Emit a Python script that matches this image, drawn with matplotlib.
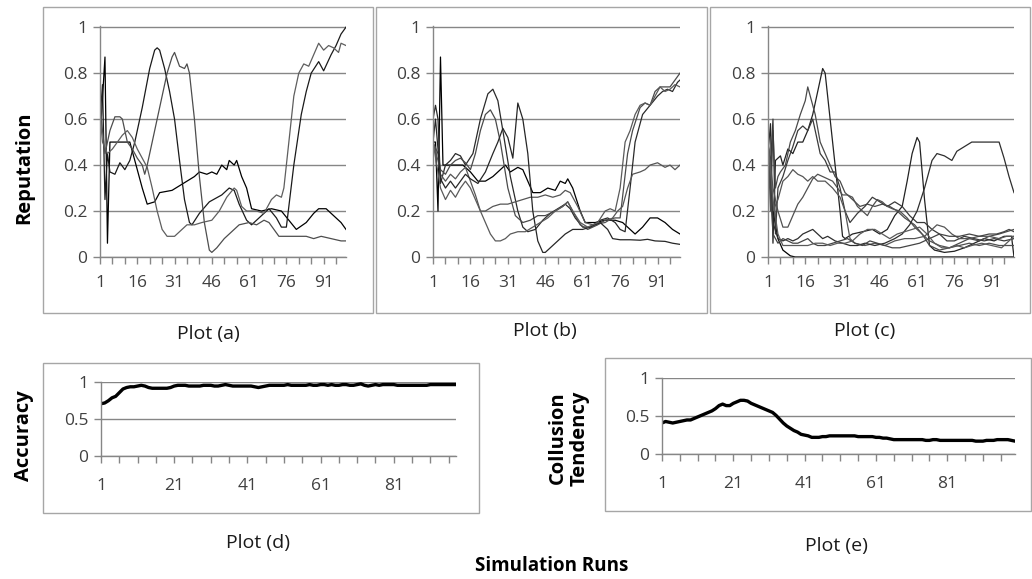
import matplotlib.pyplot as plt
from matplotlib.patches import Rectangle

plt.rcParams['font.family'] = ['Open Sans', 'DejaVu Sans']

# ---- Plot (a): reputation, 4 runs ----
a1_x = [1, 2, 3, 4, 5, 13, 16, 18, 20, 23, 25, 30, 33, 36, 39, 41, 44, 46, 48, 50, 52, 53, 55, 56, 58, 60, 62, 66,
        70, 74, 77, 80, 84, 87, 89, 92, 94, 96, 98, 100]
a1_y = [0.5, 0.69, 0.87, 0.06, 0.5, 0.5, 0.38, 0.3, 0.23, 0.24, 0.28, 0.29, 0.31, 0.33, 0.35, 0.37, 0.36, 0.37, 0.36,
        0.4, 0.38, 0.42, 0.4, 0.42, 0.35, 0.3, 0.21, 0.2, 0.21, 0.2, 0.16, 0.12, 0.15, 0.19, 0.21, 0.21, 0.19, 0.17,
        0.15, 0.12]
a2_x = [1, 2, 3, 4, 5, 7, 9, 11, 13, 15, 18, 21, 23, 24, 25, 27, 29, 31, 33, 35, 37, 38, 41, 45, 50, 53, 55, 57, 60,
        62, 65, 69, 72, 74, 76, 79, 82, 84, 86, 89, 91, 94, 96, 98, 100]
a2_y = [0.6, 0.75, 0.25, 0.45, 0.37, 0.36, 0.41, 0.38, 0.42, 0.5, 0.65, 0.82, 0.9, 0.91, 0.9, 0.82, 0.72, 0.6, 0.42,
        0.25, 0.15, 0.14, 0.19, 0.24, 0.27, 0.3, 0.29, 0.23, 0.16, 0.14, 0.17, 0.21, 0.17, 0.13, 0.13, 0.4, 0.62,
        0.72, 0.8, 0.85, 0.81, 0.88, 0.92, 0.97, 1.0]
a3_x = [1, 2, 3, 5, 7, 9, 10, 12, 14, 16, 18, 19, 20, 22, 25, 28, 30, 31, 33, 35, 36, 37, 39, 41, 43, 45, 46, 48, 51,
        54, 57, 61, 64, 67, 69, 71, 73, 76, 80, 84, 87, 90, 94, 98, 100]
a3_y = [0.68, 0.55, 0.45, 0.55, 0.61, 0.61, 0.6, 0.5, 0.47, 0.43, 0.4, 0.36, 0.4, 0.5, 0.65, 0.8, 0.87, 0.89, 0.83,
        0.82, 0.84, 0.8, 0.6, 0.35, 0.15, 0.03, 0.02, 0.04, 0.08, 0.11, 0.14, 0.15, 0.14, 0.16, 0.15, 0.12, 0.09,
        0.09, 0.09, 0.09, 0.08, 0.09, 0.08, 0.07, 0.07]
a4_x = [1, 2, 4, 6, 8, 10, 12, 14, 16, 18, 20, 22, 24, 26, 28, 31, 33, 36, 39, 42, 46, 49, 52, 55, 56, 58, 60, 64,
        67, 70, 72, 74, 75, 77, 79, 81, 83, 85, 87, 89, 91, 93, 95, 97, 98, 100]
a4_y = [0.62, 0.5, 0.45, 0.47, 0.5, 0.53, 0.55, 0.52, 0.47, 0.43, 0.39, 0.3, 0.2, 0.12, 0.09, 0.09, 0.11, 0.14, 0.14,
        0.15, 0.16, 0.2, 0.26, 0.3, 0.29, 0.22, 0.2, 0.2, 0.19, 0.25, 0.27, 0.26, 0.3, 0.5, 0.7, 0.8, 0.84, 0.83,
        0.88, 0.93, 0.9, 0.92, 0.91, 0.89, 0.93, 0.92]

# ---- Plot (b): reputation, 6 runs ----
b1_x = [1, 2, 3, 4, 5, 13, 16, 19, 22, 25, 28, 30, 32, 35, 37, 39, 41, 44, 47, 50, 52, 54, 55, 57, 60, 62, 66, 70,
        74, 77, 80, 82, 85, 88, 91, 94, 97, 100]
b1_y = [0.5, 0.5, 0.2, 0.87, 0.4, 0.4, 0.37, 0.33, 0.33, 0.35, 0.38, 0.4, 0.37, 0.39, 0.38, 0.33, 0.28, 0.28, 0.3,
        0.29, 0.33, 0.32, 0.34, 0.3, 0.2, 0.15, 0.15, 0.16, 0.16, 0.15, 0.12, 0.1, 0.13, 0.17, 0.17, 0.15, 0.12, 0.1]
b2_x = [1, 2, 3, 4, 6, 8, 10, 12, 14, 17, 20, 23, 25, 27, 29, 32, 35, 37, 39, 42, 45, 48, 51, 54, 56, 58, 61, 64,
        68, 71, 74, 76, 78, 80, 82, 85, 88, 91, 93, 95, 97, 99, 100]
b2_y = [0.6, 0.66, 0.6, 0.32, 0.4, 0.42, 0.45, 0.44, 0.4, 0.45, 0.6, 0.71, 0.73, 0.68, 0.55, 0.35, 0.2, 0.13, 0.11,
        0.12, 0.16, 0.19, 0.21, 0.23, 0.21, 0.17, 0.13, 0.13, 0.16, 0.17, 0.15, 0.12, 0.11, 0.3, 0.5, 0.62, 0.66,
        0.7, 0.72, 0.73, 0.72, 0.76, 0.77]
b3_x = [1, 3, 4, 6, 8, 10, 12, 14, 16, 18, 20, 22, 24, 26, 28, 31, 34, 37, 40, 43, 46, 50, 53, 55, 57, 60, 63, 67,
        70, 74, 76, 79, 81, 84, 86, 88, 90, 92, 96, 98, 100]
b3_y = [0.5, 0.45, 0.38, 0.36, 0.4, 0.42, 0.43, 0.41, 0.38, 0.45, 0.55, 0.62, 0.64, 0.6, 0.5, 0.3, 0.18, 0.15, 0.16,
        0.18, 0.18, 0.2, 0.22, 0.24, 0.2, 0.14, 0.12, 0.14, 0.16, 0.17, 0.17, 0.45, 0.55, 0.65, 0.67, 0.66, 0.72,
        0.74, 0.74, 0.77, 0.8]
b4_x = [1, 3, 4, 6, 8, 10, 12, 14, 16, 18, 20, 22, 25, 28, 31, 34, 37, 40, 43, 46, 49, 52, 54, 56, 59, 62, 65, 70,
        73, 75, 77, 79, 81, 84, 86, 88, 91, 94, 96, 98, 100]
b4_y = [0.5, 0.42, 0.36, 0.33, 0.36, 0.34, 0.37, 0.39, 0.33, 0.27, 0.2, 0.2, 0.22, 0.23, 0.23, 0.24, 0.25, 0.26,
        0.26, 0.27, 0.26, 0.27, 0.29, 0.28, 0.22, 0.15, 0.14, 0.15, 0.17, 0.2, 0.22, 0.3, 0.36, 0.37, 0.38, 0.4,
        0.41, 0.39, 0.4, 0.38, 0.4]
b5_x = [1, 2, 4, 6, 8, 10, 12, 14, 16, 19, 22, 25, 27, 29, 31, 33, 35, 37, 39, 41, 43, 45, 46, 48, 51, 54, 57, 61,
        64, 68, 71, 73, 76, 80, 84, 87, 90, 94, 97, 100]
b5_y = [0.5, 0.6, 0.34, 0.3, 0.33, 0.3, 0.33, 0.36, 0.34, 0.32, 0.37, 0.45, 0.5, 0.56, 0.52, 0.43, 0.67, 0.6, 0.45,
        0.2, 0.07, 0.02, 0.02, 0.04, 0.07, 0.1, 0.12, 0.12, 0.13, 0.15, 0.12, 0.08, 0.075, 0.075, 0.073, 0.077,
        0.07, 0.068, 0.06, 0.055]
b6_x = [1, 4, 6, 8, 10, 12, 14, 16, 18, 20, 22, 24, 26, 28, 30, 32, 35, 38, 41, 44, 47, 50, 53, 55, 57, 60, 63, 67,
        70, 72, 74, 76, 78, 80, 82, 84, 86, 88, 90, 92, 94, 96, 98, 100]
b6_y = [0.5, 0.3, 0.25, 0.29, 0.26, 0.3, 0.33, 0.3, 0.25, 0.2, 0.15, 0.1, 0.07, 0.07, 0.08, 0.1, 0.11, 0.11, 0.13,
        0.15, 0.17, 0.2, 0.22, 0.24, 0.2, 0.15, 0.13, 0.15, 0.2, 0.21, 0.2, 0.3, 0.5, 0.55, 0.62, 0.66, 0.67, 0.66,
        0.7, 0.74, 0.72, 0.73, 0.75, 0.74]

# ---- Plot (c): reputation, 9 runs ----
c1_x = [1, 2, 3, 5, 7, 10, 12, 100]
c1_y = [0.5, 0.35, 0.2, 0.08, 0.03, 0.005, 0.0, 0.0]
c2_x = [1, 2, 3, 4, 6, 7, 9, 11, 13, 15, 17, 19, 21, 23, 24, 26, 28, 30, 31, 32, 35, 39, 43, 46, 49, 52, 55, 57,
        59, 61, 62, 64, 66, 68, 72, 76, 80, 84, 88, 92, 96, 99, 100]
c2_y = [0.45, 0.58, 0.06, 0.42, 0.44, 0.4, 0.47, 0.45, 0.5, 0.5, 0.55, 0.62, 0.72, 0.82, 0.8, 0.6, 0.4, 0.2, 0.09,
        0.08, 0.1, 0.11, 0.12, 0.1, 0.12, 0.18, 0.22, 0.33, 0.45, 0.52, 0.5, 0.25, 0.05, 0.03, 0.02, 0.025, 0.04,
        0.06, 0.08, 0.07, 0.09, 0.09, 0.0]
c3_x = [1, 2, 3, 4, 5, 6, 8, 10, 12, 14, 16, 17, 18, 20, 22, 24, 26, 28, 30, 32, 35, 38, 41, 44, 47, 50, 53, 56,
        60, 63, 66, 70, 74, 78, 82, 86, 90, 94, 97, 100]
c3_y = [0.5, 0.2, 0.55, 0.3, 0.35, 0.37, 0.4, 0.5, 0.55, 0.62, 0.68, 0.74, 0.7, 0.62, 0.5, 0.45, 0.4, 0.35, 0.33,
        0.28, 0.25, 0.22, 0.23, 0.22, 0.23, 0.22, 0.2, 0.17, 0.14, 0.1, 0.05, 0.03, 0.04, 0.06, 0.08, 0.07, 0.09,
        0.1, 0.11, 0.12]
c4_x = [1, 2, 3, 4, 5, 7, 9, 11, 13, 15, 17, 19, 20, 22, 24, 26, 28, 30, 32, 34, 37, 40, 43, 46, 49, 52, 55, 58,
        61, 64, 67, 70, 73, 76, 80, 84, 88, 92, 96, 100]
c4_y = [0.5, 0.4, 0.6, 0.1, 0.3, 0.35, 0.42, 0.48, 0.55, 0.57, 0.55, 0.6, 0.55, 0.45, 0.42, 0.37, 0.37, 0.3, 0.2,
        0.15, 0.19, 0.22, 0.26, 0.24, 0.22, 0.24, 0.22, 0.18, 0.15, 0.15, 0.12, 0.1, 0.07, 0.07, 0.09, 0.08, 0.07,
        0.08, 0.07, 0.08]
c5_x = [1, 3, 5, 7, 9, 11, 13, 15, 17, 19, 21, 24, 27, 30, 32, 34, 36, 40, 44, 48, 52, 56, 60, 64, 67, 69, 72, 75,
        78, 82, 86, 90, 94, 97, 100]
c5_y = [0.5, 0.2, 0.25, 0.33, 0.35, 0.38, 0.36, 0.35, 0.33, 0.35, 0.33, 0.33, 0.3, 0.26, 0.2, 0.08, 0.06, 0.05,
        0.06, 0.05, 0.07, 0.08, 0.08, 0.09, 0.12, 0.14, 0.13, 0.1, 0.08, 0.08, 0.09, 0.09, 0.08, 0.09, 0.09]
c6_x = [1, 3, 5, 7, 9, 11, 13, 15, 17, 19, 21, 23, 25, 27, 29, 31, 33, 35, 37, 39, 41, 43, 45, 47, 49, 51, 54, 57,
        60, 63, 66, 70, 74, 78, 82, 86, 90, 94, 97, 100]
c6_y = [0.5, 0.3, 0.2, 0.13, 0.13, 0.18, 0.23, 0.26, 0.3, 0.34, 0.36, 0.35, 0.34, 0.33, 0.3, 0.27, 0.27, 0.26, 0.22,
        0.2, 0.18, 0.22, 0.25, 0.24, 0.22, 0.21, 0.2, 0.17, 0.13, 0.1, 0.07, 0.05, 0.04, 0.05, 0.06, 0.05, 0.06,
        0.05, 0.05, 0.05]
c7_x = [1, 3, 5, 7, 9, 11, 13, 15, 17, 19, 21, 23, 25, 28, 31, 34, 37, 40, 44, 48, 52, 55, 58, 61, 64, 67, 69, 72,
        75, 77, 80, 83, 86, 89, 92, 94, 96, 98, 100]
c7_y = [0.5, 0.15, 0.08, 0.07, 0.08, 0.07, 0.08, 0.1, 0.11, 0.12, 0.1, 0.08, 0.09, 0.07, 0.06, 0.05, 0.05, 0.06,
        0.05, 0.06, 0.08, 0.1, 0.14, 0.2, 0.3, 0.42, 0.45, 0.44, 0.42, 0.46, 0.48, 0.5, 0.5, 0.5, 0.5, 0.5, 0.43,
        0.35, 0.28]
c8_x = [1, 2, 3, 5, 7, 9, 11, 13, 15, 17, 19, 21, 24, 27, 30, 33, 36, 39, 42, 45, 48, 51, 54, 58, 62, 66, 70, 74,
        78, 82, 86, 90, 93, 96, 98, 100]
c8_y = [0.5, 0.3, 0.1, 0.06, 0.08, 0.07, 0.06, 0.06, 0.07, 0.08, 0.06, 0.05, 0.05, 0.06, 0.07, 0.08, 0.06, 0.05,
        0.07, 0.06, 0.05, 0.04, 0.04, 0.05, 0.06, 0.08, 0.1, 0.09, 0.09, 0.1, 0.09, 0.1, 0.1, 0.11, 0.12, 0.11]
c9_x = [1, 3, 5, 7, 9, 11, 14, 17, 20, 23, 26, 29, 32, 35, 38, 41, 44, 47, 50, 53, 56, 59, 62, 65, 68, 71, 74, 77,
        80, 83, 87, 91, 95, 98, 100]
c9_y = [0.5, 0.25, 0.1, 0.05, 0.05, 0.05, 0.05, 0.05, 0.06, 0.06, 0.05, 0.06, 0.06, 0.07, 0.1, 0.12, 0.12, 0.1,
        0.08, 0.1, 0.11, 0.12, 0.13, 0.1, 0.06, 0.04, 0.04, 0.05, 0.04, 0.05, 0.06, 0.05, 0.04, 0.07, 0.09]

# ---- Plot (d): accuracy per run ----
accuracy = [0.71, 0.72, 0.75, 0.79, 0.81, 0.86, 0.91, 0.93, 0.94, 0.94, 0.95, 0.96, 0.95, 0.93, 0.92, 0.92, 0.92,
            0.92, 0.92, 0.93, 0.95, 0.96, 0.96, 0.96, 0.95, 0.95, 0.95, 0.95, 0.96, 0.96, 0.96, 0.95, 0.95, 0.96,
            0.97, 0.96, 0.95, 0.95, 0.95, 0.95, 0.95, 0.95, 0.94, 0.93, 0.94, 0.95, 0.96, 0.96, 0.96, 0.96, 0.96,
            0.97, 0.96, 0.96, 0.96, 0.96, 0.96, 0.97, 0.96, 0.96, 0.97, 0.97, 0.96, 0.97, 0.96, 0.96, 0.97, 0.97,
            0.96, 0.96, 0.97, 0.98, 0.96, 0.95, 0.96, 0.97, 0.96, 0.97, 0.97, 0.97, 0.97, 0.96, 0.96, 0.96, 0.96,
            0.96, 0.96, 0.96, 0.96, 0.96, 0.97, 0.97, 0.97, 0.97, 0.97, 0.97, 0.97, 0.97]

# ---- Plot (e): collusion tendency per run ----
collusion = [0.41, 0.43, 0.42, 0.41, 0.42, 0.43, 0.44, 0.45, 0.45, 0.47, 0.49, 0.51, 0.53, 0.55, 0.57, 0.6, 0.64,
             0.66, 0.64, 0.64, 0.67, 0.69, 0.71, 0.71, 0.7, 0.67, 0.65, 0.63, 0.61, 0.59, 0.57, 0.55, 0.51, 0.46,
             0.41, 0.37, 0.34, 0.31, 0.29, 0.26, 0.25, 0.24, 0.22, 0.22, 0.22, 0.23, 0.23, 0.24, 0.24, 0.24, 0.24,
             0.24, 0.24, 0.24, 0.24, 0.23, 0.23, 0.23, 0.23, 0.23, 0.22, 0.22, 0.21, 0.21, 0.2, 0.19, 0.19, 0.19,
             0.19, 0.19, 0.19, 0.19, 0.19, 0.19, 0.18, 0.18, 0.19, 0.19, 0.18, 0.18, 0.18, 0.18, 0.18, 0.18, 0.18,
             0.18, 0.18, 0.18, 0.17, 0.17, 0.17, 0.18, 0.18, 0.18, 0.19, 0.19, 0.19, 0.19, 0.18, 0.17]

W, H = 1032.0, 579.0
GRID = '#868686'
TXT = '#404040'

fig = plt.figure(figsize=(10.32, 5.79), dpi=100)


def frame(x0, y0, x1, y1):
    fig.add_artist(Rectangle((x0 / W, 1 - y1 / H), (x1 - x0) / W, (y1 - y0) / H,
                             transform=fig.transFigure, fill=False, ec='#a6a6a6', lw=1))


def axes_px(x0, y0, x1, y1):
    return fig.add_axes([x0 / W, 1 - y1 / H, (x1 - x0) / W, (y1 - y0) / H])


def excel_style(ax, n, yticks, ylabels, label_step, xpad):
    ax.set_xlim(1, n)
    ax.set_ylim(0, 1.005)
    for s in ['top', 'right']:
        ax.spines[s].set_visible(False)
    for s in ['left', 'bottom']:
        ax.spines[s].set_color(GRID)
        ax.spines[s].set_linewidth(1)
    ax.set_yticks(yticks)
    ax.set_yticklabels(ylabels)
    ax.yaxis.grid(True, color=GRID, lw=1)
    ticks = list(range(1, n + 1, 5))
    ax.set_xticks(ticks)
    ax.set_xticklabels([str(t) if (t - 1) % label_step == 0 else '' for t in ticks])
    ax.tick_params(axis='both', colors=GRID, labelcolor=TXT, labelsize=12.5,
                   direction='out', length=5, width=1)
    ax.tick_params(axis='x', pad=8)
    ax.tick_params(axis='y', pad=4)
    ax.set_axisbelow(True)


rep_ticks = [0, 0.2, 0.4, 0.6, 0.8, 1]
rep_labels = ['0', '0.2', '0.4', '0.6', '0.8', '1']

# top row frames and axes
frame(43, 7, 373, 313)
frame(376, 7, 707, 313)
frame(710, 7, 1030, 313)
ax_a = axes_px(100, 26, 346, 257)
ax_b = axes_px(433, 26, 680, 257)
ax_c = axes_px(768, 26, 1014, 257)

series_a = [(a1_x, a1_y, '#000000'), (a2_x, a2_y, '#1a1a1a'), (a3_x, a3_y, '#4d4d4d'), (a4_x, a4_y, '#5e5e5e')]
series_b = [(b1_x, b1_y, '#000000'), (b2_x, b2_y, '#2a2a2a'), (b3_x, b3_y, '#4a4a4a'),
            (b4_x, b4_y, '#555555'), (b5_x, b5_y, '#262626'), (b6_x, b6_y, '#5a5a5a')]
series_c = [(c1_x, c1_y, '#000000'), (c2_x, c2_y, '#222222'), (c3_x, c3_y, '#4a4a4a'),
            (c4_x, c4_y, '#3a3a3a'), (c5_x, c5_y, '#555555'), (c6_x, c6_y, '#505050'),
            (c7_x, c7_y, '#2e2e2e'), (c8_x, c8_y, '#444444'), (c9_x, c9_y, '#5a5a5a')]

for ax, series in [(ax_a, series_a), (ax_b, series_b), (ax_c, series_c)]:
    excel_style(ax, 100, rep_ticks, rep_labels, 15, 9)
    for xs, ys, col in series:
        ax.plot(xs, ys, color=col, lw=0.9)

# bottom row
frame(43, 363, 479, 513)
frame(605, 358, 1031, 511)
ax_d = axes_px(101, 382, 456, 456)
ax_e = axes_px(662, 378, 1015, 454)
excel_style(ax_d, len(accuracy), [0, 0.5, 1], ['0', '0.5', '1'], 20, 12)
excel_style(ax_e, len(collusion), [0, 0.5, 1], ['0', '0.5', '1'], 20, 12)
ax_d.tick_params(axis='x', pad=11)
ax_e.tick_params(axis='x', pad=11)
ax_d.plot(range(1, len(accuracy) + 1), accuracy, color='black', lw=2.4, solid_capstyle='round')
ax_e.plot(range(1, len(collusion) + 1), collusion, color='black', lw=2.4, solid_capstyle='round')

# labels
fig.text(24 / W, 1 - 168 / H, 'Reputation', rotation=90, fontsize=14.5, fontweight='bold',
         ha='center', va='center')
fig.text(24 / W, 1 - 436 / H, 'Accuracy', rotation=90, fontsize=14.5, fontweight='bold',
         ha='center', va='center')
fig.text(569 / W, 1 - 438 / H, 'Collusion\nTendency', rotation=90, fontsize=14.5, fontweight='bold',
         ha='center', va='center', linespacing=1.1)
for txt, x, y in [('Plot (a)', 208, 334), ('Plot (b)', 545, 331), ('Plot (c)', 865, 331),
                  ('Plot (d)', 258, 543), ('Plot (e)', 836, 546)]:
    fig.text(x / W, 1 - y / H, txt, fontsize=14, ha='center', va='center', color='#1a1a1a')
fig.text(552 / W, 1 - 566 / H, 'Simulation Runs', fontsize=13.5, fontweight='bold', ha='center', va='center')

fig.savefig('out.png', dpi=100)
